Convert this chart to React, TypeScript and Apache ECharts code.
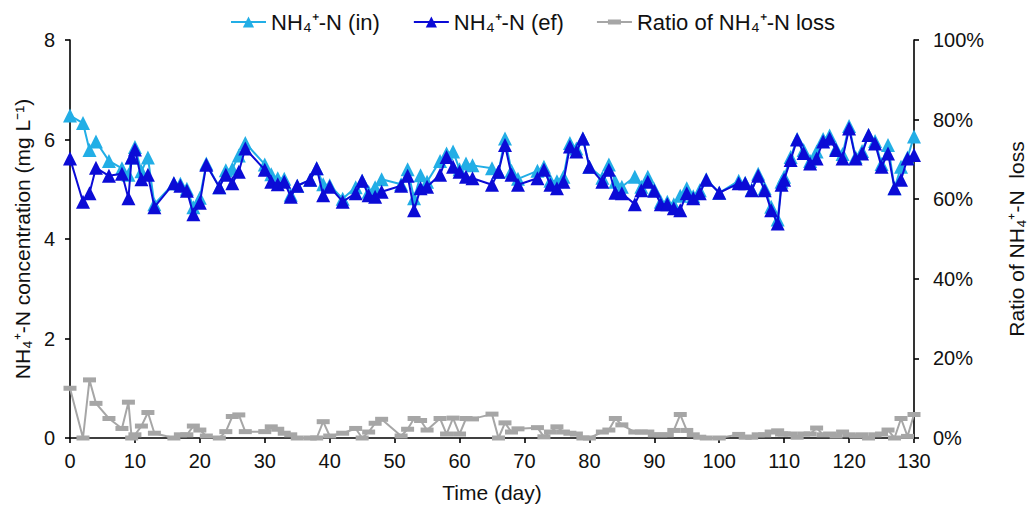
import React, { useEffect, useRef } from "react";
import * as echarts from "echarts";

const days = [
  0, 2, 3, 4, 6, 8, 9, 9.5, 10, 11, 12, 13, 16, 17, 18, 19, 20, 21, 23, 24, 25, 26, 27,
  30, 31, 32, 33, 34, 35, 37, 38, 39, 40, 42, 44, 45, 46, 47, 48, 51, 52, 53, 54, 55,
  57, 58, 59, 60, 61, 62, 65, 66, 67, 68, 69, 72, 73, 74, 75, 76, 77, 78, 79, 80, 82,
  83, 84, 85, 87, 88, 89, 90, 91, 92, 93, 94, 95, 96, 97, 98, 100, 103, 104, 105, 106,
  107, 108, 109, 109.6, 110, 111, 112, 113, 114, 115, 116, 117, 118, 119, 120, 121, 122,
  123, 124, 125, 126, 127, 128, 129, 130,
];

const nh4In = [
  6.48, 6.33, 5.79, 5.96, 5.57, 5.42, 5.29, 5.64, 5.85, 5.36, 5.64, 4.7, 5.12, 5.11, 5.01,
  4.64, 4.83, 5.52, 5.04, 5.38, 5.41, 5.68, 5.93, 5.5, 5.3, 5.22, 5.21, 4.89, 5.07, 5.19,
  5.42, 5.1, 5.08, 4.81, 5.04, 5.17, 4.95, 5.04, 5.2, 5.1, 5.4, 4.82, 5.28, 5.15, 5.57,
  5.72, 5.76, 5.4, 5.52, 5.48, 5.42, 5.35, 6.02, 5.37, 5.21, 5.37, 5.45, 5.17, 5.16, 5.25,
  5.93, 5.82, 6.02, 5.45, 5.23, 5.5, 5.15, 5.05, 5.25, 5.05, 5.25, 5.0, 4.75, 4.75, 4.7,
  4.87, 5.02, 4.86, 4.98, 5.2, 4.93, 5.17, 5.13, 4.99, 5.31, 5.02, 4.65, 4.39, 5.15, 5.25,
  5.65, 6.01, 5.79, 5.57, 5.76, 6.01, 6.08, 5.82, 5.71, 6.27, 5.65, 5.77, 6.09, 5.97, 5.51,
  5.89, 5.02, 5.45, 5.64, 6.06,
];

const nh4Ef = [
  5.62, 4.75, 4.92, 5.43, 5.27, 5.31, 4.82, 5.64, 5.8, 5.2, 5.29, 4.64, 5.12, 5.07, 4.97,
  4.5, 4.73, 5.49, 5.04, 5.29, 5.12, 5.35, 5.82, 5.39, 5.15, 5.1, 5.15, 4.85, 5.07, 5.19,
  5.42, 4.88, 5.05, 4.75, 4.92, 5.17, 4.88, 4.85, 4.95, 5.07, 5.27, 4.58, 5.02, 5.05, 5.29,
  5.65, 5.45, 5.35, 5.25, 5.22, 5.09, 5.35, 5.89, 5.29, 5.09, 5.22, 5.39, 5.09, 5.02, 5.15,
  5.86, 5.76, 6.02, 5.45, 5.15, 5.39, 4.93, 4.92, 4.7, 4.98, 5.15, 4.97, 4.7, 4.7, 4.62,
  4.58, 4.92, 4.82, 4.92, 5.19, 4.93, 5.12, 5.12, 4.98, 5.27, 4.98, 4.58, 4.31, 5.09, 5.19,
  5.59, 6.0, 5.73, 5.52, 5.62, 5.96, 6.02, 5.79, 5.62, 6.22, 5.62, 5.72, 6.09, 5.92, 5.45,
  5.72, 5.02, 5.19, 5.62, 5.69,
];

const lossRatio = [
  12.5, 0, 14.6, 8.7, 4.9, 2.4, 9.0, 0, 0.8, 3.0, 6.4, 1.2, 0, 0.8, 0.8, 3.0, 2.0, 0.5, 0,
  1.6, 5.4, 5.8, 1.6, 1.6, 2.8, 2.2, 1.2, 0.8, 0, 0, 0, 4.1, 0.5, 1.2, 2.4, 0, 1.5, 3.7,
  4.7, 0.5, 2.2, 4.9, 4.4, 2.0, 4.9, 1.0, 5.0, 1.0, 4.9, 4.8, 6.0, 0, 3.8, 1.5, 2.3, 2.6,
  0.3, 1.5, 2.8, 1.5, 1.2, 1.0, 0, 0, 1.5, 2.0, 4.9, 3.3, 1.5, 1.5, 1.5, 0.8, 0.8, 0.8,
  1.9, 5.9, 1.9, 0.8, 0.2, 0, 0, 0.9, 0.2, 0.2, 0.8, 0.8, 1.5, 1.8, 1.0, 1.0, 1.0, 0.2,
  1.0, 1.0, 2.5, 0.8, 1.0, 0.5, 1.5, 0.8, 0.5, 0.8, 0, 0.8, 1.0, 2.0, 0, 4.9, 0.4, 5.9,
];

const seriesNames = ["NH₄⁺-N (in)", "NH₄⁺-N (ef)", "Ratio of NH₄⁺-N loss"];
const leftTicks = { min: 0, max: 8, interval: 2 };
const rightTicks = { min: 0, max: 100, interval: 20 };
const xTicks = { min: 0, max: 130, interval: 10 };

const FONT = "'Liberation Sans', Arial, sans-serif";
const TXT = "#111111";
const C_IN = "#22aee6";
const C_EF = "#0b0bd6";
const C_RATIO = "#a6a6a6";

export default function App() {
  const ref = useRef<HTMLDivElement>(null);

  useEffect(() => {
    document.body.style.margin = "0";
    if (!ref.current) return;
    const chart = echarts.init(ref.current, null, { renderer: "svg" });

    const pair = (vals: number[]) => days.map((d, i) => [d, vals[i]]);

    const axisLine = { show: true, lineStyle: { color: "#000", width: 1.6 } };
    const axisTick = { show: true, inside: false, length: 5, lineStyle: { color: "#000", width: 1.6 } };
    const labelStyle = { fontSize: 20, color: TXT, fontFamily: FONT };
    const nameStyle = { fontSize: 21, color: TXT, fontFamily: FONT };

    chart.setOption({
      animation: false,
      textStyle: { fontFamily: FONT },
      grid: { left: 70, right: 114, top: 40, bottom: 73, containLabel: false },
      legend: {
        top: 6,
        left: 225,
        itemGap: 33,
        itemWidth: 35,
        itemHeight: 14,
        textStyle: { fontSize: 22, color: TXT, fontFamily: FONT },
        data: [
          { name: seriesNames[0] },
          { name: seriesNames[1] },
          {
            name: seriesNames[2],
            icon: "path://M0,6 L35,6 L35,8 L0,8 Z M11,4.5 L24,4.5 L24,9.5 L11,9.5 Z",
            itemStyle: { color: C_RATIO },
          },
        ],
      },
      xAxis: {
        type: "value",
        ...xTicks,
        axisLine,
        axisTick,
        splitLine: { show: false },
        axisLabel: { ...labelStyle, margin: 13 },
        name: "Time (day)",
        nameLocation: "middle",
        nameGap: 44,
        nameTextStyle: nameStyle,
      },
      yAxis: [
        {
          type: "value",
          position: "left",
          ...leftTicks,
          axisLine,
          axisTick,
          splitLine: { show: false },
          axisLabel: { ...labelStyle, margin: 15 },
          name: "NH₄⁺-N concentration (mg L⁻¹)",
          nameLocation: "middle",
          nameRotate: 90,
          nameGap: 37,
          nameTextStyle: nameStyle,
        },
        {
          type: "value",
          position: "right",
          ...rightTicks,
          axisLine,
          axisTick,
          splitLine: { show: false },
          axisLabel: { ...labelStyle, margin: 19, formatter: "{value}%" },
          name: "Ratio of NH₄⁺-N  loss",
          nameLocation: "middle",
          nameRotate: 90,
          nameGap: 92,
          nameTextStyle: nameStyle,
        },
      ],
      series: [
        {
          name: seriesNames[0],
          type: "line",
          yAxisIndex: 0,
          data: pair(nh4In),
          symbol: "triangle",
          symbolSize: 14,
          color: C_IN,
          lineStyle: { width: 2, color: C_IN },
          itemStyle: { color: C_IN },
          z: 2,
        },
        {
          name: seriesNames[1],
          type: "line",
          yAxisIndex: 0,
          data: pair(nh4Ef),
          symbol: "triangle",
          symbolSize: 14,
          color: C_EF,
          lineStyle: { width: 2, color: C_EF },
          itemStyle: { color: C_EF },
          z: 3,
        },
        {
          name: seriesNames[2],
          type: "line",
          yAxisIndex: 1,
          data: pair(lossRatio),
          symbol: "rect",
          symbolSize: [13, 5],
          color: C_RATIO,
          lineStyle: { width: 2, color: C_RATIO },
          itemStyle: { color: C_RATIO },
          z: 1,
        },
      ],
    });

    return () => chart.dispose();
  }, []);

  return <div ref={ref} style={{ width: 1035, height: 511 }} />;
}
